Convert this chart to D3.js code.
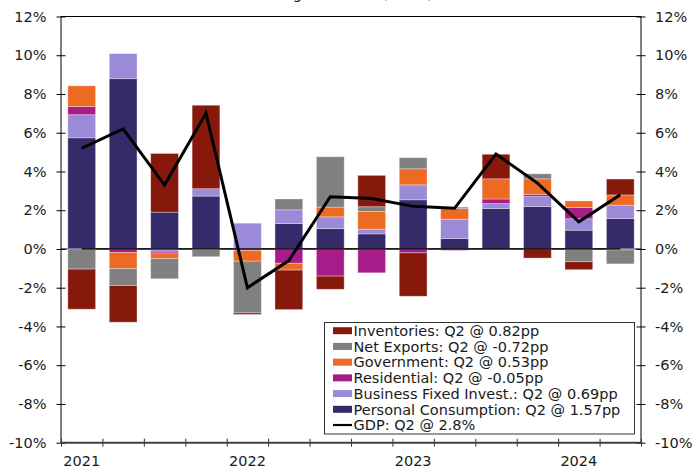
<!DOCTYPE html>
<html>
<head>
<meta charset="utf-8">
<script src="https://cdn.jsdelivr.net/npm/d3@7"></script>
<style>
  body { margin: 0; background: #fff; }
  svg { display: block; }
  text { font-family: "DejaVu Sans", Verdana, sans-serif; fill: #1a1a1a; }
</style>
</head>
<body>
<svg id="chart" width="693" height="468"></svg>
<script>
// Quarterly contributions to real GDP growth, percentage points (SAAR)
const quarters = ["2021Q1","2021Q2","2021Q3","2021Q4","2022Q1","2022Q2","2022Q3",
                  "2022Q4","2023Q1","2023Q2","2023Q3","2023Q4","2024Q1","2024Q2"];
const personalConsumption = [5.74, 8.79, 1.90, 2.73, 0.00, 1.31, 1.05, 0.78, 2.54, 0.54, 2.09, 2.19, 0.97, 1.57];
const businessInvest      = [1.19, 1.29, -0.12, 0.38, 1.33, 0.71, 0.61, 0.24, 0.77, 1.00, 0.25, 0.52, 0.59, 0.69];
const residential         = [0.42, -0.18, -0.09, 0.00, -0.08, -0.74, -1.40, -1.23, -0.20, -0.07, 0.24, 0.11, 0.58, -0.05];
const government          = [1.07, -0.84, -0.29, -0.02, -0.55, -0.35, 0.50, 0.92, 0.83, 0.54, 1.04, 0.80, 0.34, 0.53];
const netExports          = [-1.04, -0.87, -1.04, -0.38, -2.67, 0.56, 2.60, 0.24, 0.57, 0.08, 0.00, 0.26, -0.66, -0.72];
const inventories         = [-2.07, -1.89, 3.03, 4.31, -0.08, -2.04, -0.68, 1.62, -2.24, 0.00, 1.27, -0.47, -0.41, 0.82];
const gdp                 = [5.2, 6.2, 3.3, 7.0, -2.0, -0.6, 2.7, 2.6, 2.2, 2.1, 4.9, 3.4, 1.4, 2.8];

const yTicks = [-10, -8, -6, -4, -2, 0, 2, 4, 6, 8, 10, 12];
const yearLabels = ["2021", "2022", "2023", "2024"];
const yearStarts = ["2021Q1", "2022Q1", "2023Q1", "2024Q1"];

const seriesKeys  = ["pc", "bfi", "res", "gov", "nx", "inv"];
const seriesNames = ["Personal Consumption", "Business Fixed Invest.", "Residential",
                     "Government", "Net Exports", "Inventories"];
const seriesColors = ["#352b6b", "#9a8ad8", "#a61d8a", "#ec6a22", "#808080", "#86190c"];
const legendOrder = ["inv", "nx", "gov", "res", "bfi", "pc"];

const rows = quarters.map((q, i) => ({
  q,
  pc: personalConsumption[i], bfi: businessInvest[i], res: residential[i],
  gov: government[i], nx: netExports[i], inv: inventories[i], gdp: gdp[i]
}));

const svg = d3.select("#chart");
const plotLeft = 61, plotRight = 641, plotTop = 16.5, plotBottom = 442.7;

const x = d3.scaleBand().domain(quarters).range([plotLeft, plotRight])
  .paddingInner(0.33).paddingOuter(0.165);
const xEdges = d3.scaleLinear().domain([0, quarters.length]).range([plotLeft, plotRight]);
const y = d3.scaleLinear().domain([-10, 12]).range([plotBottom, plotTop]);
const color = d3.scaleOrdinal().domain(seriesKeys).range(seriesColors);

// Title (sits above the frame, mostly outside the page)
svg.append("text")
  .attr("x", 433).attr("y", -0.8)
  .attr("text-anchor", "end")
  .style("font-size", "14.5px")
  .text("Real GDP growth rate (SAAR)");

// Zero line behind the bars
svg.append("line")
  .attr("x1", plotLeft).attr("x2", plotRight)
  .attr("y1", y(0)).attr("y2", y(0))
  .attr("stroke", "#000").attr("stroke-width", 1);

// Stacked bars, positives up and negatives down
const stacked = d3.stack().keys(seriesKeys).offset(d3.stackOffsetDiverging)(rows);
svg.append("g").selectAll("g")
  .data(stacked).join("g")
  .attr("fill", d => color(d.key))
  .selectAll("rect")
  .data(d => d).join("rect")
  .attr("x", d => x(d.data.q))
  .attr("width", x.bandwidth())
  .attr("y", d => y(Math.max(d[0], d[1])))
  .attr("height", d => Math.abs(y(d[0]) - y(d[1])))
  .attr("stroke", "rgba(255,240,250,0.45)")
  .attr("stroke-width", 0.8);

// Zero reference drawn across the bar centres
const center = q => x(q) + x.bandwidth() / 2;
svg.append("path")
  .datum(rows)
  .attr("fill", "none").attr("stroke", "#000").attr("stroke-width", 1.2)
  .attr("d", d3.line().x(d => center(d.q)).y(() => y(0)));

// GDP line
svg.append("path")
  .datum(rows)
  .attr("fill", "none").attr("stroke", "#000").attr("stroke-width", 3)
  .attr("stroke-linejoin", "miter")
  .attr("d", d3.line().x(d => center(d.q)).y(d => y(d.gdp)));

// Frame top
svg.append("line")
  .attr("x1", plotLeft).attr("x2", plotRight).attr("y1", plotTop).attr("y2", plotTop)
  .attr("stroke", "#000").attr("stroke-width", 1);

// Left axis
const fmt = d => d + "%";
const gl = svg.append("g").attr("transform", `translate(${plotLeft},0)`)
  .call(d3.axisLeft(y).tickValues(yTicks).tickFormat(fmt).tickSize(5).tickPadding(9.5));
gl.select(".domain").attr("stroke", "#000").attr("d", `M0,${plotTop}V${plotBottom}`);
gl.selectAll(".tick line").attr("x1", -4.5).attr("x2", 4.5).attr("stroke", "#000");
gl.selectAll(".tick text").style("font-size", "14.5px").attr("fill", "#1a1a1a");

// Right axis
const gr = svg.append("g").attr("transform", `translate(${plotRight},0)`)
  .call(d3.axisRight(y).tickValues(yTicks).tickFormat(fmt).tickSize(5).tickPadding(9));
gr.select(".domain").attr("stroke", "#000").attr("d", `M0,${plotTop}V${plotBottom}`);
gr.selectAll(".tick line").attr("x1", -4.5).attr("x2", 4.5).attr("stroke", "#000");
gr.selectAll(".tick text").style("font-size", "14.5px").attr("fill", "#1a1a1a");

// Bottom axis: ticks between quarters, year labels under each Q1
const gb = svg.append("g").attr("transform", `translate(0,${plotBottom})`)
  .call(d3.axisBottom(xEdges).tickValues(d3.range(quarters.length + 1)).tickFormat("").tickSize(4));
gb.select(".domain").attr("stroke", "#404040").attr("stroke-width", 2)
  .attr("d", `M${plotLeft},0H${plotRight}`);
gb.selectAll(".tick line").attr("y1", -4).attr("y2", 4).attr("stroke", "#333");

svg.append("g").selectAll("text")
  .data(yearLabels).join("text")
  .attr("x", (d, i) => center(yearStarts[i]))
  .attr("y", 466)
  .attr("text-anchor", "middle")
  .style("font-size", "14.5px")
  .text(d => d);

// Legend
const lastIdx = quarters.length - 1;
const legendItems = legendOrder.map(k => {
  const i = seriesKeys.indexOf(k);
  const v = rows[lastIdx][k];
  return { key: k, color: seriesColors[i], label: `${seriesNames[i]}: Q2 @ ${v.toFixed(2)}pp` };
});
legendItems.push({ key: "gdp", color: "#000", label: `GDP: Q2 @ ${gdp[lastIdx].toFixed(1)}%` });

const lg = svg.append("g");
lg.append("rect")
  .attr("x", 324.5).attr("y", 322.5).attr("width", 310).attr("height", 111.5)
  .attr("fill", "#fff").attr("stroke", "#333").attr("stroke-width", 1);
const rowY = i => 330.7 + i * 15.72;
lg.selectAll("g.item").data(legendItems).join("g").attr("class", "item")
  .each(function(d, i) {
    const g = d3.select(this);
    if (d.key === "gdp") {
      g.append("line").attr("x1", 333).attr("x2", 352)
        .attr("y1", rowY(i)).attr("y2", rowY(i))
        .attr("stroke", "#000").attr("stroke-width", 2.2);
    } else {
      g.append("rect").attr("x", 333).attr("y", rowY(i) - 3.5)
        .attr("width", 19).attr("height", 7).attr("fill", d.color);
    }
    g.append("text").attr("x", 353.5).attr("y", rowY(i) + 5.2)
      .style("font-size", "14.5px").text(d.label);
  });
</script>
</body>
</html>
